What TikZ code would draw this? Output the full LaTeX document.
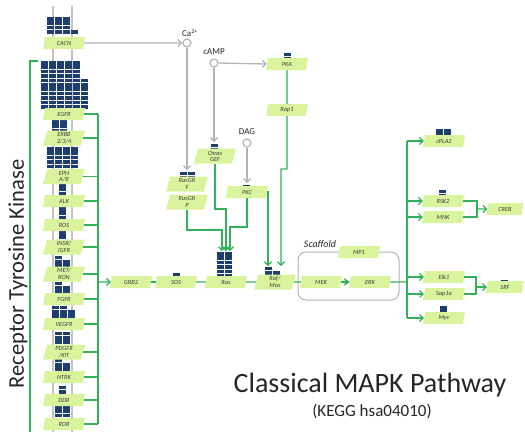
\documentclass[tikz,border=0pt]{standalone}
\usepackage{fontspec}
\setmainfont{Carlito}
\usetikzlibrary{shapes.geometric,arrows.meta}

\definecolor{pathgreen}{HTML}{33B05A}
\definecolor{linegray}{HTML}{B4B4B4}
\definecolor{membgray}{HTML}{C4C4C4}
\definecolor{nodefill}{HTML}{DAF49E}
\definecolor{blockblue}{HTML}{1F3E70}
\definecolor{labeltext}{HTML}{3A3A3A}

% one row of protein blocks: left x, top y, number of blocks
\newcommand\blkrow[3]{%
  \foreach \k in {1,...,#3}{\fill[blockblue] ({#1+(\k-1)*8},{#2}) rectangle ++(7,3.6);}}
% a stack of rows: left x, top y, list of row lengths (top to bottom)
\newcommand\blkstack[3]{%
  \foreach \n [count=\r] in {#3}{\blkrow{#1}{#2+(\r-1)*4.4}{\n}}}

\begin{document}
\begin{tikzpicture}[x=1pt,y=-1pt,
  pn/.style={trapezium, trapezium left angle=70, trapezium right angle=110,
    trapezium stretches body, fill=nodefill, minimum width=42pt, minimum height=12pt,
    inner sep=0.6pt, text=labeltext, font=\fontsize{6.3}{6.3}\selectfont\itshape, align=center},
  pn2/.style={pn, minimum height=15pt},
  gl/.style={draw=pathgreen, line width=1.2pt},
  ga/.style={gl, -{Straight Barb[length=3.5pt,width=7pt]}},
  gy/.style={draw=linegray, line width=1.3pt},
  gya/.style={gy, -{Straight Barb[length=3.5pt,width=7pt]}},
  mol/.style={circle, draw=linegray, line width=1.2pt, fill=white, minimum size=8pt, inner sep=0pt},
  mlab/.style={font=\fontsize{9}{10}\selectfont, text=black!85, inner sep=0pt}
]
\useasboundingbox (0,0) rectangle (525,432);

% membrane rails behind the receptor column
\draw[membgray, line width=1.8pt] (53,6) -- (53,432);
\draw[membgray, line width=1.8pt] (72,6) -- (72,432);

% protein blocks, receptor column
\blkstack{47}{17}{3,3,3,4}
\blkstack{41}{61}{5,5,5,5,6,6,6,6,6,6,6}
\blkstack{52}{120}{2,2,2}
\blkstack{47}{147}{4,4,4,4,4}
\blkstack{59}{183}{1,1,1}
\blkstack{59}{207}{1,1,1}
\blkstack{59}{231}{1,1}
\blkstack{55}{255.5}{1,2,2}
\blkstack{55}{281.5}{1,2,2}
\blkstack{52}{305.5}{2,3,3}
\blkstack{55}{331.5}{2,2,2}
\blkstack{55}{358.5}{1,2,2}
\blkstack{59}{385.5}{1,1}
\blkstack{55}{405}{2,2,2}

% protein blocks, pathway
\blkstack{173}{272.5}{1}
\blkstack{217}{252}{2,2,2,2,2,2}
\blkrow{265}{266.5}{1}
\blkrow{265}{270.9}{2}
\blkstack{180}{171.5}{2,2}
\blkstack{211}{143.5}{1,1}
\blkstack{284}{52.5}{1,1}
\blkstack{243}{184.5}{1}
\blkstack{436}{129}{2,2}
\blkstack{439}{189.5}{1,1}
\blkstack{440}{270.5}{1}
\blkstack{440}{306}{1,1}
\blkstack{501}{280}{1}

% receptor nodes
\node[pn] (cacn) at (64,43) {CACN};
\node[pn] (egfr) at (64,114) {EGFR};
\node[pn2] (erbb) at (64,138) {ERBB\\2/3/4};
\node[pn2] (eph) at (64,176.5) {EPH\\A/B};
\node[pn] (alk) at (64,201) {ALK};
\node[pn] (ros) at (64,225) {ROS};
\node[pn2] (insr) at (64,247) {INSR/\\IGFR};
\node[pn2] (met) at (64,274) {MET/\\RON};
\node[pn] (fgfr) at (64,299) {FGFR};
\node[pn] (vegfr) at (64,324) {VEGFR};
\node[pn2] (pdgfr) at (64,352) {PDGFR\\/KIT};
\node[pn] (ntrk) at (64,377) {NTRK};
\node[pn] (ddr) at (64,400) {DDR};
\node[pn] (ror) at (64,424) {ROR};

% second messengers
\node[mol] (ca) at (187,43) {};
\node[mlab] (calab) at (190,33) {Ca\textsuperscript{2+}};
\node[mol] (camp) at (214,63) {};
\node[mlab] (camplab) at (214,52) {cAMP};
\node[mol] (dag) at (247,143) {};
\node[mlab] (daglab) at (247,132) {DAG};

% upstream regulators
\node[pn] (pka) at (287,64) {PKA};
\node[pn] (rap1) at (287,110) {Rap1};
\node[pn2] (chras) at (215,156) {Chras\\GEF};
\node[pn2] (rasgrf) at (187,184) {RasGR\\F};
\node[pn2] (rasgrp) at (187,202) {RasGR\\P};
\node[pn] (pkc) at (247,192) {PKC};

% scaffold
\draw[linegray, line width=1pt, rounded corners=8pt] (298,252) rectangle (399,300);
\node[font=\fontsize{10}{11}\selectfont\itshape, text=black!85] (scaf) at (320,244) {Scaffold};

% main cascade
\node[pn] (grb2) at (131,282) {GRB2};
\node[pn] (sos) at (176,282) {SOS};
\node[pn] (ras) at (226,282) {Ras};
\node[pn2] (raf) at (275,282) {Raf/\\Mos};
\node[pn] (mek) at (321,282) {MEK};
\node[pn] (erk) at (370,282) {ERK};
\node[pn] (mp1) at (359,252) {MP1};

% targets
\node[pn] (cpla2) at (444,141) {cPLA2};
\node[pn] (rsk2) at (443,201) {RSK2};
\node[pn] (mnk) at (443,217) {MNK};
\node[pn, minimum width=37pt] (creb) at (505,209) {CREB};
\node[pn] (elk1) at (444,277) {Elk1};
\node[pn] (sap1a) at (444,294) {Sap1a};
\node[pn] (myc) at (444,318) {Myc};
\node[pn, minimum width=38pt] (srf) at (505,287) {SRF};

% titles
\node[text=black!85] (title) at (370,385) {\fontsize{28}{30}\selectfont Classical MAPK Pathway};
\node[text=black!85] (subtitle) at (372,411) {\fontsize{17}{19}\selectfont (KEGG hsa04010)};
\node[rotate=90, text=black!85] (rtk) at (18,274) {\fontsize{22.5}{24}\selectfont Receptor Tyrosine Kinase};

% connection points
\coordinate (bracketTop) at (30,61);
\coordinate (bracketBot) at (30,432);
\coordinate (busT) at (98,114);
\coordinate (busB) at (98,424);
\coordinate (busMid) at (98,282);
\coordinate (grfTop) at (187,170);
\coordinate (chrasTop) at (214,142);
\coordinate (pkcTop) at (247,183);
\coordinate (rasIn1) at (222,251);
\coordinate (rasIn2) at (226,251);
\coordinate (rasIn3) at (230,251);
\coordinate (rafIn1) at (268,266);
\coordinate (rafIn2) at (281,266);
\coordinate (jR) at (407,282);
\coordinate (jRT) at (407,141);
\coordinate (jRB) at (407,318);
\coordinate (crebJ) at (477,209);
\coordinate (srfJ) at (476,287);

% receptor bracket
\draw[gl] (bracketTop) ++(8,0) -- (bracketTop) -- (bracketBot);

% receptor bus
\draw[gl] (busT) -- (busB);
\foreach \r in {egfr,erbb,eph,alk,ros,insr,met,fgfr,vegfr,pdgfr,ntrk,ddr,ror}
  \draw[gl] (\r.east) -- (\r.east -| busT);
\draw[ga] (busMid) -- (grb2.west);

% second messenger links
\draw[gya] (cacn.east) -- (ca.west);
\draw[gya] (ca.south) -- (grfTop);
\draw[gya] (camp.east) -- (pka.west);
\draw[gya] (camp.south) -- (chrasTop);
\draw[gya] (dag.south) -- (pkcTop);

% inputs to Ras and Raf
\draw[ga] (chras.south) |- (226,209) -- (rasIn2);
\draw[ga] (rasgrp.south) |- (222,230) -- (rasIn1);
\draw[ga] (pkc.south) |- (230,227) -- (rasIn3);
\draw[ga] (pkc.east) -| (rafIn1);
\draw[gl] (pka.south) -- (rap1.north);
\draw[ga] (rap1.south) -- (287,169) -| (rafIn2);

% cascade
\draw[gl] (grb2.east) -- (sos.west);
\draw[gl] (sos.east) -- (ras.west);
\draw[gl] (ras.east) -- (raf.west);
\draw[gl] (raf.east) -- (mek.west);
\draw[gl, line width=1.5pt, -{Stealth[length=6pt,width=8pt]}] (mek.east) -- (erk.west);
\draw[gl] (erk.east) -- (jR);

% downstream targets
\draw[gl] (jRT) -- (jRB);
\foreach \t in {cpla2,rsk2,mnk,elk1,sap1a,myc}
  \draw[ga] (\t.west -| jR) -- (\t.west);
\draw[gl] (rsk2.east) -| (crebJ) |- (mnk.east);
\draw[ga] (crebJ) -- (creb.west);
\draw[gl] (elk1.east) -| (srfJ) |- (sap1a.east);
\draw[ga] (srfJ) -- (srf.west);
\end{tikzpicture}
\end{document}
